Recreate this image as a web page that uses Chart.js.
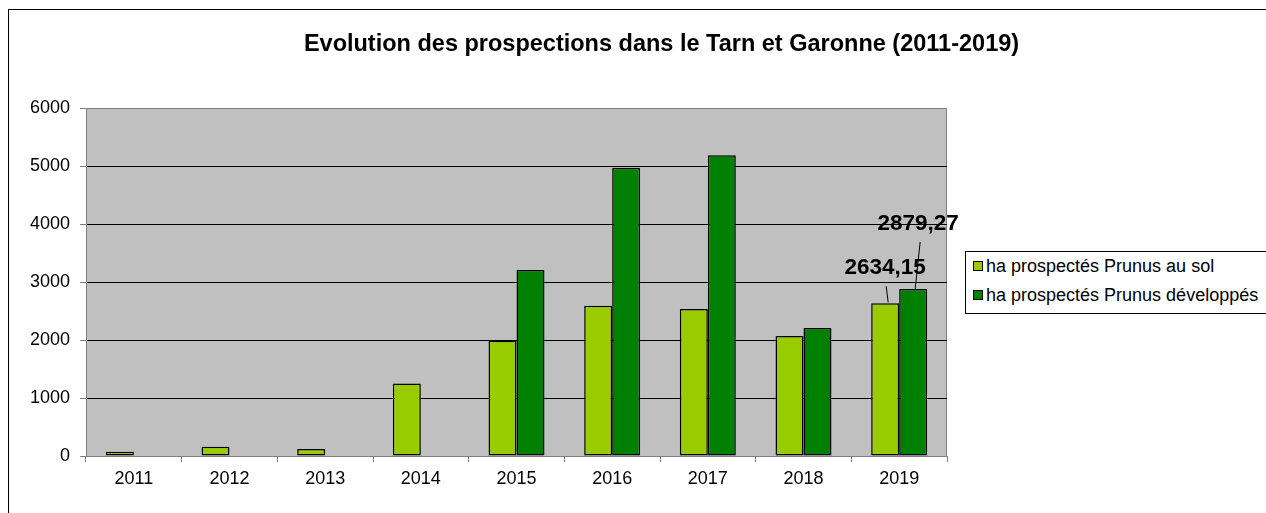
<!DOCTYPE html>
<html>
<head>
<meta charset="utf-8">
<script src="https://cdn.jsdelivr.net/npm/chart.js@4"></script>
<style>
  body { margin: 0; background: #fff; overflow: hidden; }
  #wrap { position: relative; width: 1266px; height: 513px; font-family: "Liberation Sans", Arial, sans-serif; }
  #frame { position: absolute; left: 8px; top: 9px; width: 1300px; height: 600px; border: 1px solid #000; }
  #chart { position: absolute; left: 0; top: 0; }
  #title { position: absolute; left: 0; width: 1323px; top: 30px; text-align: center; font-weight: bold; font-size: 23.5px; color: #000; }
  #legend { position: absolute; left: 965px; top: 251px; width: 320px; height: 61px; border: 1px solid #000; background: #fff; font-size: 18px; }
  #legend div { position: absolute; left: 7px; white-space: nowrap; }
  #legend span { display: inline-block; width: 8px; height: 8px; border: 1px solid #000; margin-right: 3px; vertical-align: 1px; }
</style>
</head>
<body>
<div id="wrap">
  <div id="frame"></div>
  <canvas id="chart" width="1266" height="513"></canvas>
  <div id="title">Evolution des prospections dans le Tarn et Garonne (2011-2019)</div>
  <div id="legend"></div>
</div>
<script>
const years = ["2011", "2012", "2013", "2014", "2015", "2016", "2017", "2018", "2019"];
const auSol = [75, 160, 120, 1250, 1985, 2590, 2535, 2070, 2634.15];
const developpes = [null, null, null, null, 3205, 4970, 5185, 2205, 2879.27];
const seriesNames = ["ha prospectés Prunus au sol", "ha prospectés Prunus développés"];
const seriesColors = ["#99CC00", "#008000"];
const yTicks = [0, 1000, 2000, 3000, 4000, 5000, 6000];

const FONT = "'Liberation Sans', Arial, sans-serif";

// grey plot area with its frame
const plotArea = {
  id: "plotArea",
  beforeDraw(chart) {
    const { ctx, chartArea: a } = chart;
    ctx.save();
    ctx.fillStyle = "#C0C0C0";
    ctx.fillRect(a.left, a.top, a.right - a.left, a.bottom - a.top);
    ctx.strokeStyle = "#808080";
    ctx.lineWidth = 1;
    ctx.strokeRect(a.left + 0.5, a.top + 0.5, a.right - a.left - 1, a.bottom - a.top);
    ctx.restore();
  },
};

// value labels of 2019 with their leader lines
const lastLabels = {
  id: "lastLabels",
  afterDatasetsDraw(chart) {
    const { ctx } = chart;
    const idx = years.length - 1;
    const specs = [
      { ds: 0, dx: 0, dy: -35, l1: [1, -17], l2: [3, -1] },
      { ds: 1, dx: 5, dy: -65, l1: [7, -47], l2: [2, 0] },
    ];
    ctx.save();
    ctx.font = "bold 22.5px " + FONT;
    ctx.fillStyle = "#000";
    ctx.textAlign = "center";
    ctx.textBaseline = "middle";
    ctx.strokeStyle = "#000";
    ctx.lineWidth = 1;
    specs.forEach((s) => {
      const bar = chart.getDatasetMeta(s.ds).data[idx];
      const value = chart.data.datasets[s.ds].data[idx];
      ctx.beginPath();
      ctx.moveTo(bar.x + s.l1[0], bar.y + s.l1[1]);
      ctx.lineTo(bar.x + s.l2[0], bar.y + s.l2[1]);
      ctx.stroke();
      ctx.fillText(value.toFixed(2).replace(".", ","), bar.x + s.dx, bar.y + s.dy);
    });
    ctx.restore();
  },
};

const buildLegend = () => {
  const box = document.getElementById("legend");
  seriesNames.forEach((name, i) => {
    const row = document.createElement("div");
    row.style.top = (4 + i * 29) + "px";
    row.innerHTML = '<span style="background:' + seriesColors[i] + '"></span>' + name;
    box.appendChild(row);
  });
};

const initChart = () => {
  const context = document.getElementById("chart").getContext("2d");
  new Chart(context, {
    type: "bar",
    data: {
      labels: years,
      datasets: [auSol, developpes].map((values, i) => ({
        label: seriesNames[i],
        data: values,
        backgroundColor: seriesColors[i],
        borderColor: "#000",
        borderWidth: 1.5,
        borderSkipped: false,
        categoryPercentage: 0.585,
        barPercentage: 1,
      })),
    },
    options: {
      responsive: false,
      animation: false,
      layout: { padding: { left: 10, right: 319, top: 108, bottom: 17 } },
      plugins: {
        legend: { display: false },
        title: { display: false },
        tooltip: { enabled: false },
      },
      scales: {
        x: {
          offset: true,
          afterFit: (scale) => { scale.height = 40; },
          border: { color: "#808080", width: 1 },
          grid: { offset: true, drawOnChartArea: false, tickLength: 6, tickColor: "#808080" },
          ticks: { color: "#000", padding: 6, font: { family: FONT, size: 18 } },
        },
        y: {
          min: 0,
          max: 6000,
          afterFit: (scale) => { scale.width = 76; },
          afterBuildTicks: (scale) => { scale.ticks = yTicks.map((v) => ({ value: v })); },
          border: { color: "#808080", width: 1 },
          grid: {
            color: (c) => (c.tick && (c.tick.value === 0 || c.tick.value === 6000) ? "#808080" : "#000"),
            lineWidth: 1,
            tickLength: 6,
            tickColor: "#808080",
          },
          ticks: {
            color: "#000",
            padding: 10,
            font: { family: FONT, size: 18 },
            callback: (v) => String(v),
          },
        },
      },
    },
    plugins: [plotArea, lastLabels],
  });
};

window.addEventListener("DOMContentLoaded", () => {
  buildLegend();
  initChart();
});
</script>
</body>
</html>
